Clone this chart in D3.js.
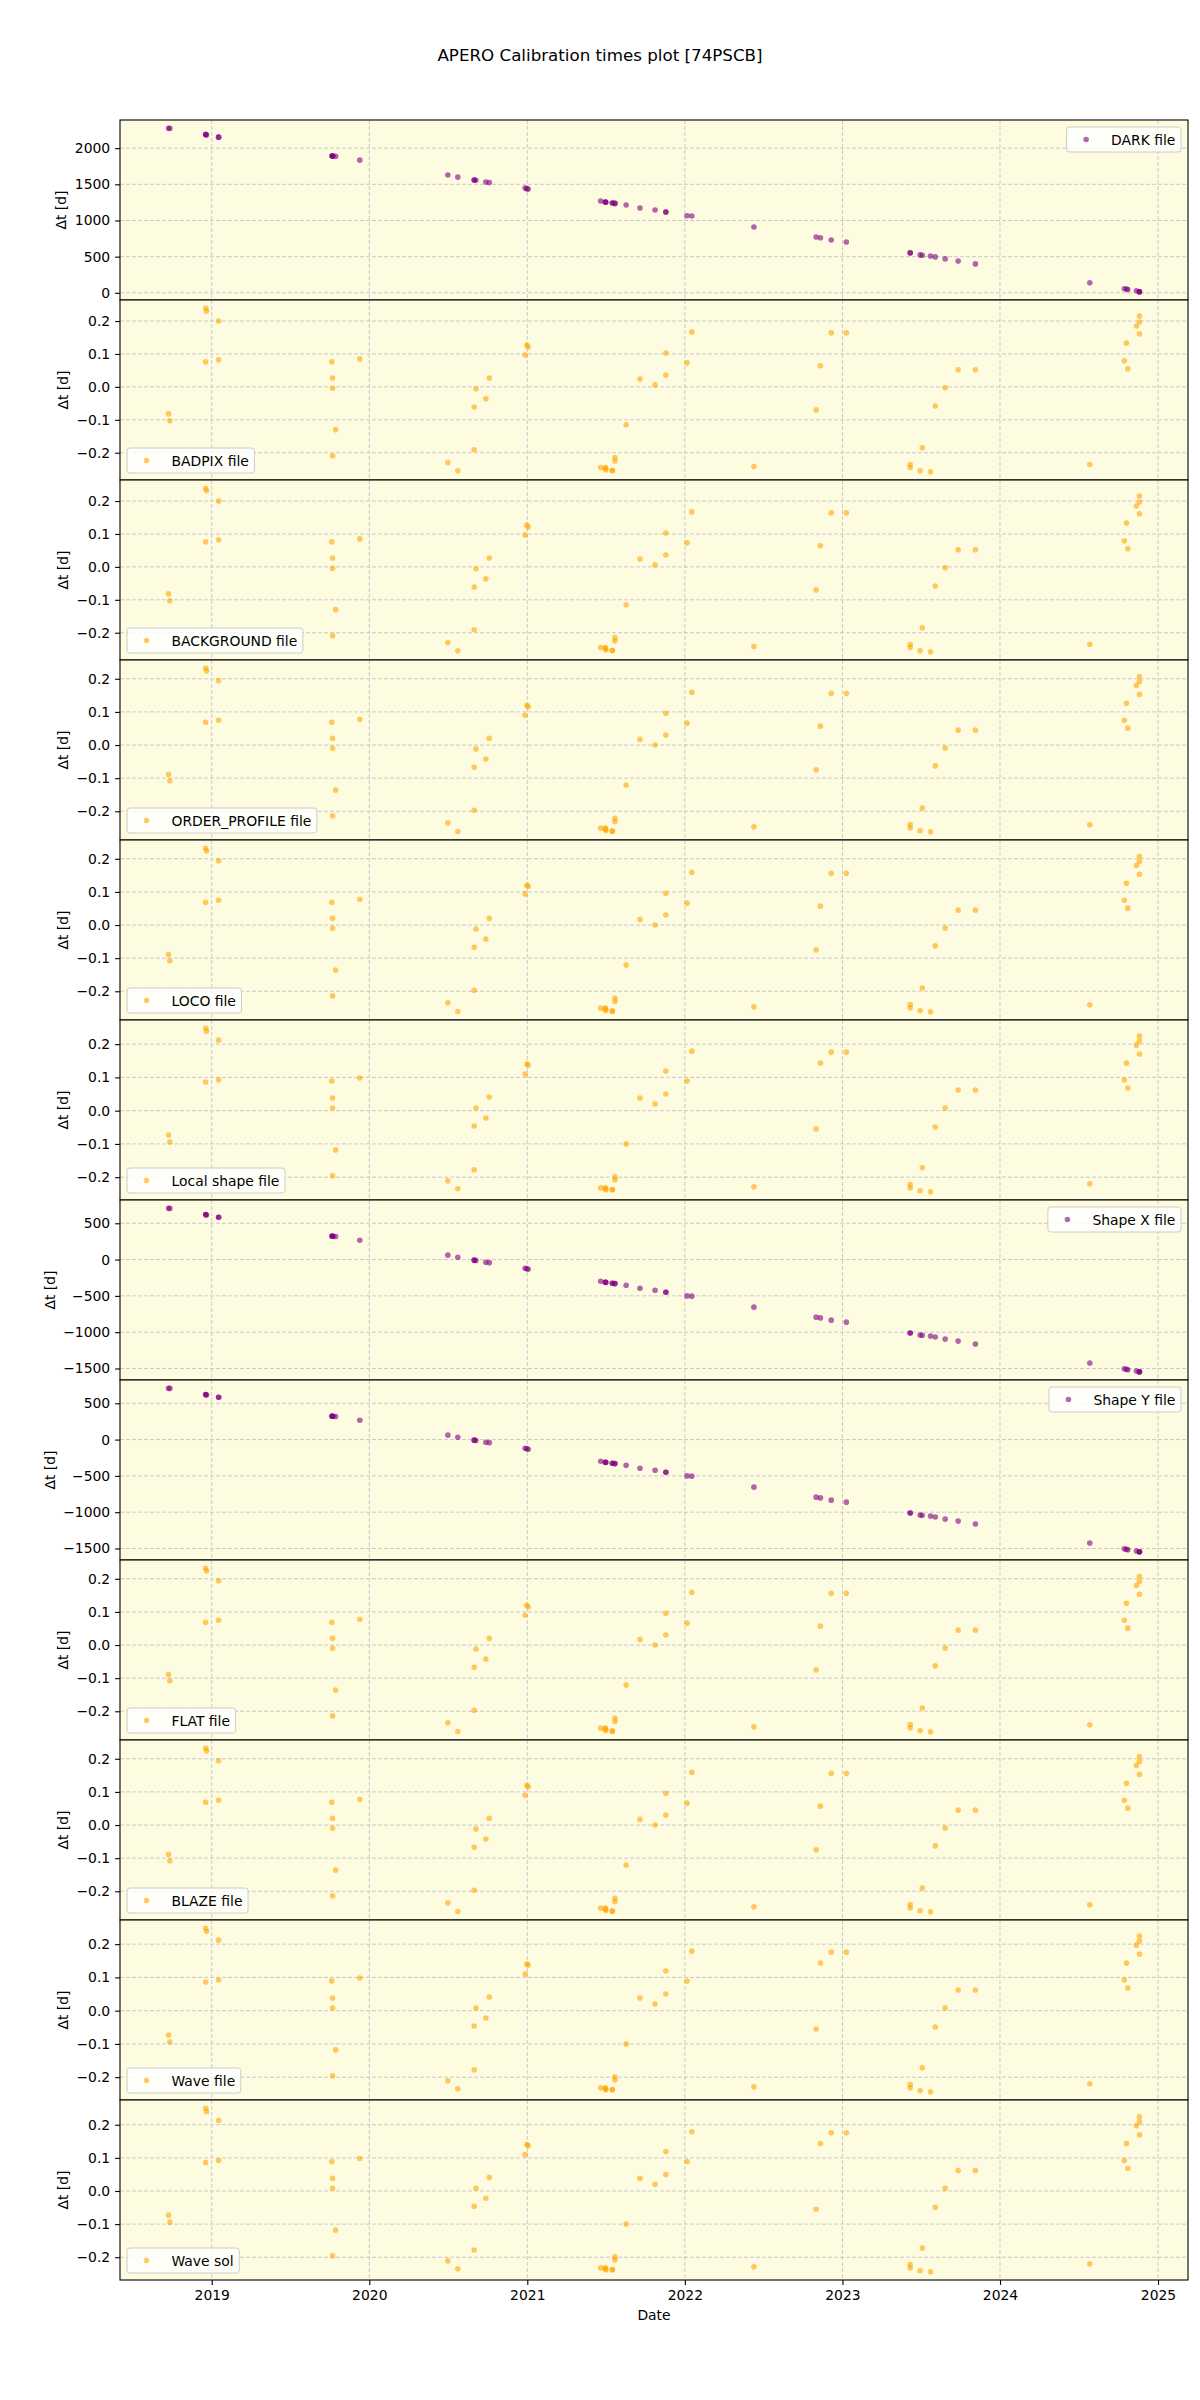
<!DOCTYPE html>
<html><head><meta charset="utf-8">
<script src="https://cdn.jsdelivr.net/npm/d3@7"></script>
<style>body{margin:0;background:#fff;} text{font-family:"DejaVu Sans",sans-serif;fill:#000;}</style>
</head><body><svg id="c" width="1200" height="2400"></svg>
<script>
// ---------- data ----------
const dates = [
 "2018-09-23","2018-09-26","2018-12-18","2018-12-20","2018-12-18","2019-01-17","2019-01-17",
 "2019-10-06","2019-10-08","2019-10-08","2019-10-08","2019-10-15","2019-12-10",
 "2020-07-01","2020-07-24","2020-08-31","2020-08-31","2020-09-04","2020-09-27","2020-10-05",
 "2020-12-27","2020-12-31","2021-01-03",
 "2021-06-20","2021-07-01","2021-07-01","2021-07-02","2021-07-17","2021-07-17","2021-07-23","2021-07-23",
 "2021-08-18","2021-09-19","2021-10-24","2021-11-18","2021-11-18",
 "2022-01-06","2022-01-17","2022-06-10","2022-11-01","2022-11-11","2022-12-06",
 "2023-01-10","2023-06-07","2023-06-07","2023-06-30","2023-07-05","2023-07-24","2023-08-04",
 "2023-08-27","2023-09-26","2023-11-05",
 "2024-07-27","2024-10-15","2024-10-20","2024-10-23","2024-11-12","2024-11-19","2024-11-19","2024-11-19"
];
const darkFile = [2276,2273,2190,2183,2189,2152,2152,1892,1890,1890,1890,1886,1834,1628,1600,1559,1559,1555,1531,1525,
 1448,1440,1434,1269,1255,1255,1253,1241,1241,1236,1236,1214,1172,1145,1117,1117,1066,1062,910,772,762,731,
 703,552,552,524,520,510,497,469,441,400,138,57,52,45,28,14,14,14];
const badpixFile = [-0.082,-0.103,0.239,0.230,0.076,0.200,0.082,0.076,0.027,-0.004,-0.209,-0.130,0.085,-0.230,-0.255,
 -0.191,-0.061,-0.006,-0.036,0.027,0.097,0.127,0.121,-0.245,-0.245,-0.248,-0.252,-0.254,-0.254,-0.215,-0.225,
 -0.115,0.024,0.006,0.103,0.036,0.073,0.167,-0.242,-0.070,0.064,0.164,0.164,-0.236,-0.245,-0.255,-0.185,-0.258,
 -0.058,-0.003,0.052,0.052,-0.236,0.079,0.133,0.055,0.185,0.197,0.215,0.161];
const backgroundFile = [-0.082,-0.103,0.239,0.232,0.076,0.200,0.082,0.076,0.027,-0.004,-0.209,-0.130,0.085,-0.230,-0.255,
 -0.191,-0.061,-0.006,-0.036,0.027,0.097,0.127,0.121,-0.245,-0.245,-0.248,-0.252,-0.254,-0.254,-0.215,-0.225,
 -0.115,0.024,0.006,0.103,0.036,0.073,0.167,-0.242,-0.070,0.064,0.164,0.164,-0.236,-0.245,-0.255,-0.185,-0.258,
 -0.058,-0.003,0.052,0.052,-0.236,0.079,0.133,0.055,0.185,0.197,0.215,0.161];
const orderProfileFile = [-0.089,-0.108,0.232,0.224,0.069,0.194,0.075,0.069,0.020,-0.010,-0.214,-0.136,0.078,-0.235,-0.261,
 -0.197,-0.067,-0.012,-0.042,0.020,0.090,0.120,0.115,-0.251,-0.251,-0.254,-0.258,-0.260,-0.260,-0.221,-0.231,
 -0.121,0.017,0.000,0.096,0.030,0.066,0.159,-0.247,-0.075,0.057,0.156,0.156,-0.240,-0.250,-0.259,-0.190,-0.262,
 -0.063,-0.009,0.045,0.045,-0.241,0.075,0.126,0.051,0.180,0.192,0.207,0.153];
const locoFile = [-0.089,-0.108,0.232,0.224,0.069,0.194,0.075,0.069,0.020,-0.010,-0.214,-0.136,0.078,-0.235,-0.261,
 -0.197,-0.067,-0.012,-0.042,0.020,0.094,0.120,0.117,-0.251,-0.251,-0.254,-0.258,-0.260,-0.260,-0.221,-0.231,
 -0.121,0.017,0.000,0.096,0.030,0.066,0.159,-0.247,-0.075,0.057,0.156,0.156,-0.240,-0.250,-0.259,-0.190,-0.262,
 -0.063,-0.009,0.045,0.045,-0.241,0.075,0.126,0.051,0.180,0.192,0.207,0.153];
const localShapeFile = [-0.073,-0.094,0.248,0.239,0.086,0.212,0.092,0.089,0.038,0.008,-0.196,-0.118,0.098,-0.211,-0.235,
 -0.178,-0.046,0.008,-0.022,0.041,0.110,0.140,0.137,-0.232,-0.232,-0.235,-0.238,-0.238,-0.237,-0.199,-0.208,
 -0.100,0.038,0.020,0.119,0.050,0.089,0.179,-0.229,-0.055,0.143,0.176,0.176,-0.222,-0.232,-0.241,-0.172,-0.244,
 -0.049,0.008,0.062,0.062,-0.220,0.092,0.143,0.068,0.197,0.209,0.224,0.170];
const shapeXFile = [708,705,622,615,621,584,584,324,322,322,322,318,266,61,33,-8,-8,-12,-36,-42,-119,-127,-133,
 -298,-312,-312,-314,-326,-326,-331,-331,-353,-395,-422,-450,-450,-500,-504,-655,-793,-803,-834,-862,
 -1012,-1012,-1040,-1044,-1054,-1067,-1095,-1123,-1163,-1425,-1505,-1510,-1517,-1534,-1546,-1546,-1546];
const shapeYFile = [708,705,622,615,621,584,584,324,322,322,322,318,266,61,33,-8,-8,-12,-36,-42,-119,-127,-133,
 -298,-312,-312,-314,-326,-326,-331,-331,-353,-395,-422,-450,-450,-500,-504,-655,-793,-803,-834,-862,
 -1012,-1012,-1040,-1044,-1054,-1067,-1095,-1123,-1163,-1425,-1505,-1510,-1517,-1534,-1546,-1546,-1546];
const flatFile = [-0.089,-0.108,0.232,0.224,0.069,0.194,0.075,0.069,0.020,-0.010,-0.214,-0.136,0.078,-0.235,-0.261,
 -0.197,-0.067,-0.012,-0.042,0.020,0.090,0.120,0.115,-0.251,-0.251,-0.254,-0.258,-0.260,-0.260,-0.221,-0.231,
 -0.121,0.017,0.000,0.096,0.030,0.066,0.159,-0.247,-0.075,0.057,0.156,0.156,-0.240,-0.250,-0.259,-0.190,-0.262,
 -0.063,-0.009,0.045,0.045,-0.241,0.075,0.126,0.051,0.180,0.192,0.207,0.153];
const blazeFile = [-0.089,-0.108,0.232,0.224,0.069,0.194,0.075,0.069,0.020,-0.010,-0.214,-0.136,0.078,-0.235,-0.261,
 -0.197,-0.067,-0.012,-0.042,0.020,0.090,0.120,0.115,-0.251,-0.251,-0.254,-0.258,-0.260,-0.260,-0.221,-0.231,
 -0.121,0.017,0.000,0.096,0.030,0.066,0.159,-0.247,-0.075,0.057,0.156,0.156,-0.240,-0.250,-0.259,-0.190,-0.262,
 -0.063,-0.009,0.045,0.045,-0.241,0.075,0.126,0.051,0.180,0.192,0.207,0.153];
const waveFile = [-0.073,-0.094,0.248,0.239,0.086,0.212,0.092,0.089,0.038,0.008,-0.196,-0.118,0.098,-0.211,-0.235,
 -0.178,-0.046,0.008,-0.022,0.041,0.110,0.140,0.137,-0.232,-0.232,-0.235,-0.238,-0.238,-0.237,-0.199,-0.208,
 -0.100,0.038,0.020,0.119,0.050,0.089,0.179,-0.229,-0.055,0.143,0.176,0.176,-0.222,-0.232,-0.241,-0.172,-0.244,
 -0.049,0.008,0.062,0.062,-0.220,0.092,0.143,0.068,0.197,0.209,0.224,0.170];
const waveSol = [-0.073,-0.094,0.250,0.240,0.086,0.213,0.092,0.089,0.038,0.008,-0.196,-0.118,0.098,-0.211,-0.235,
 -0.178,-0.046,0.008,-0.022,0.041,0.110,0.140,0.137,-0.232,-0.232,-0.235,-0.238,-0.238,-0.237,-0.199,-0.208,
 -0.100,0.038,0.020,0.119,0.050,0.089,0.179,-0.229,-0.055,0.143,0.176,0.176,-0.222,-0.232,-0.241,-0.172,-0.244,
 -0.049,0.008,0.062,0.062,-0.220,0.092,0.143,0.068,0.197,0.209,0.224,0.170];

const panelNames = ["DARK file","BADPIX file","BACKGROUND file","ORDER_PROFILE file","LOCO file","Local shape file",
 "Shape X file","Shape Y file","FLAT file","BLAZE file","Wave file","Wave sol"];
const panelValues = [darkFile,badpixFile,backgroundFile,orderProfileFile,locoFile,localShapeFile,
 shapeXFile,shapeYFile,flatFile,blazeFile,waveFile,waveSol];
const panelColors = ["purple","orange","orange","orange","orange","orange","purple","purple","orange","orange","orange","orange"];
const legendUpperRight = [true,false,false,false,false,false,true,true,false,false,false,false];
const darkTicks = [0,500,1000,1500,2000];
const smallTicks = [-0.2,-0.1,0.0,0.1,0.2];
const shapeTicks = [-1500,-1000,-500,0,500];
const panelTicks = [darkTicks,smallTicks,smallTicks,smallTicks,smallTicks,smallTicks,shapeTicks,shapeTicks,smallTicks,smallTicks,smallTicks,smallTicks];
const yearTicks = ["2019","2020","2021","2022","2023","2024","2025"];
const titleText = "APERO Calibration times plot [74PSCB]";

// ---------- layout ----------
const svg = d3.select("#c");
const L = 120, R = 1188, T = 120, PH = 180;
const FS = 13.9;
const parse = d3.utcParse("%Y-%m-%d");
const xDates = dates.map(parse);
const [dmin, dmax] = d3.extent(xDates);
const span = dmax - dmin;
const x = d3.scaleUtc().domain([new Date(+dmin - 0.05*span), new Date(+dmax + 0.05*span)]).range([L, R]);
const yearDates = yearTicks.map(y => parse(y + "-01-01"));

svg.append("rect").attr("width",1200).attr("height",2400).attr("fill","#fff");
svg.append("text").attr("x",600).attr("y",61).attr("text-anchor","middle")
  .style("font-size","16.7px").text(titleText);

panelValues.forEach((vals, i) => {
  const top = T + i*PH, bot = top + PH;
  const [vmin, vmax] = d3.extent(vals);
  const pad = (vmax - vmin) * 0.05;
  const y = d3.scaleLinear().domain([vmin - pad, vmax + pad]).range([bot, top]);
  const g = svg.append("g");
  g.append("rect").attr("x",L).attr("y",top).attr("width",R-L).attr("height",PH).attr("fill","#fefce0");
  // grid
  const grid = g.append("g").attr("stroke","#c9c9d0").attr("stroke-width",1).attr("stroke-dasharray","4,2");
  yearDates.forEach(d => grid.append("line").attr("x1",x(d)).attr("x2",x(d)).attr("y1",top).attr("y2",bot));
  panelTicks[i].forEach(t => grid.append("line").attr("x1",L).attr("x2",R).attr("y1",y(t)).attr("y2",y(t)));
  // points
  const col = panelColors[i];
  g.append("g").selectAll("circle").data(vals).join("circle")
    .attr("cx",(v,j)=>x(xDates[j])).attr("cy",v=>y(v)).attr("r",2.8)
    .attr("fill",col).attr("fill-opacity",0.6);
  // y axis
  const ya = d3.axisLeft(y).tickValues(panelTicks[i]).tickSize(4.9).tickPadding(4.9)
    .tickFormat(panelTicks[i] === smallTicks ? d3.format(".1f") : d3.format("d"));
  const axg = g.append("g").attr("transform",`translate(${L},0)`).call(ya);
  axg.select(".domain").remove();
  axg.selectAll("text").style("font-size",FS+"px").style("font-family","DejaVu Sans");
  axg.selectAll("line").attr("stroke","#000").attr("stroke-width",1.1);
  let maxW = 0;
  axg.selectAll("text").each(function(){ maxW = Math.max(maxW, this.getComputedTextLength()); });
  const lx = L - 9.8 - maxW - 5.6 - 3;
  g.append("text").attr("transform",`translate(${lx},${(top+bot)/2}) rotate(-90)`)
    .attr("text-anchor","middle").style("font-size",FS+"px").text("Δt [d]");
  // spines
  g.append("rect").attr("x",L).attr("y",top).attr("width",R-L).attr("height",PH)
    .attr("fill","none").attr("stroke","#000").attr("stroke-width",1.1);
  // legend
  const lg = g.append("g");
  const txt = lg.append("text").style("font-size",FS+"px").text(panelNames[i]);
  const tw = txt.node().getComputedTextLength();
  const bw = 5.6 + 27.8 + 11.1 + tw + 5.6, bh = 25;
  const bx = legendUpperRight[i] ? R - 7 - bw : L + 7;
  const by = legendUpperRight[i] ? top + 7 : bot - 7 - bh;
  lg.insert("rect","text").attr("x",bx).attr("y",by).attr("width",bw).attr("height",bh).attr("rx",3)
    .attr("fill","#fff").attr("fill-opacity",0.8).attr("stroke","#cccccc").attr("stroke-width",1);
  lg.append("circle").attr("cx",bx+5.6+13.9).attr("cy",by+bh/2).attr("r",2.8).attr("fill",col).attr("fill-opacity",0.6);
  txt.attr("x",bx+5.6+27.8+11.1).attr("y",by+bh/2+5);
});

// bottom x axis
const bottom = T + panelValues.length*PH;
const xa = d3.axisBottom(x).tickValues(yearDates).tickFormat((d,k)=>yearTicks[k]).tickSize(4.9).tickPadding(4.9);
const xg = svg.append("g").attr("transform",`translate(0,${bottom})`).call(xa);
xg.select(".domain").remove();
xg.selectAll("text").style("font-size",FS+"px").style("font-family","DejaVu Sans");
xg.selectAll("line").attr("stroke","#000").attr("stroke-width",1.1);
svg.append("text").attr("x",(L+R)/2).attr("y",2320).attr("text-anchor","middle").style("font-size",FS+"px").text("Date");
</script></body></html>
